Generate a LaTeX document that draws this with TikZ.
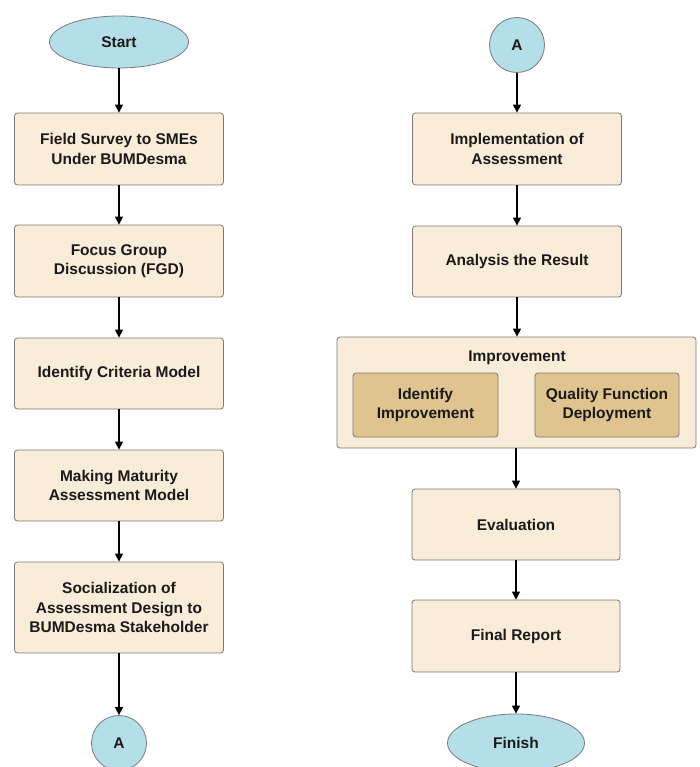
\documentclass[tikz,border=0pt]{standalone}
\usepackage{fontspec}
\setmainfont{Liberation Sans}
\usetikzlibrary{arrows.meta,shapes.geometric}
\definecolor{boxfill}{HTML}{F9ECD8}
\definecolor{innerfill}{HTML}{DFC48F}
\definecolor{termfill}{HTML}{B5DFE8}
\definecolor{edgegray}{HTML}{7A7A7A}
\definecolor{txt}{HTML}{1A1A1A}
\tikzset{
  lbl/.style={font=\fontsize{15.5}{19.5}\selectfont\bfseries, text=txt},
  stepbox/.style={lbl, draw=edgegray, line width=0.8pt, fill=boxfill, rounded corners=3pt,
    minimum width=209pt, minimum height=72pt, align=center, inner sep=0pt},
  innerbox/.style={stepbox, fill=innerfill, minimum width=145pt, minimum height=64pt},
  termell/.style={lbl, draw=edgegray, line width=0.8pt, fill=termfill, ellipse,
    minimum width=139pt, minimum height=52pt, inner sep=0pt},
  connect/.style={lbl, draw=edgegray, line width=0.8pt, fill=termfill, circle,
    minimum size=55pt, inner sep=0pt},
  flow/.style={line width=1.4pt, -{Triangle[length=8pt,width=8pt]}, black}
}
\begin{document}
\begin{tikzpicture}[x=1pt,y=-1pt]
\clip (0,0) rectangle (700,767);
\fill[white] (0,0) rectangle (700,767);
% left column
\node[termell] (start) at (119,42) {Start};
\node[stepbox] (b1) at (119,149) {Field Survey to SMEs\\Under BUMDesma};
\node[stepbox] (b2) at (119,261) {Focus Group\\Discussion (FGD)};
\node[stepbox, minimum height=71pt] (b3) at (119,373.5) {Identify Criteria Model};
\node[stepbox, minimum height=71pt] (b4) at (119,485.5) {Making Maturity\\Assessment Model};
\node[stepbox, minimum height=91pt] (b5) at (119,607.5) {Socialization of\\Assessment Design to\\BUMDesma Stakeholder};
\node[connect] (aL) at (119,743) {A};
\draw[flow] (start) -- (b1);
\draw[flow] (b1) -- (b2);
\draw[flow] (b2) -- (b3);
\draw[flow] (b3) -- (b4);
\draw[flow] (b4) -- (b5);
\draw[flow] (b5) -- (aL);
% right column
\node[connect] (aR) at (517,45) {A};
\node[stepbox] (r1) at (517,149) {Implementation of\\Assessment};
\node[stepbox, minimum height=71pt] (r2) at (517,261.5) {Analysis the Result};
\node[stepbox, minimum width=359pt, minimum height=111pt] (imp) at (516.5,392.5) {};
\node[lbl] (implabel) at (517,358) {Improvement};
\node[innerbox] (i1) at (425.5,405) {Identify\\Improvement};
\node[innerbox, minimum width=144pt] (i2) at (607,405) {Quality Function\\Deployment};
\node[stepbox, minimum width=208pt, minimum height=71pt] (r3) at (516,524.5) {Evaluation};
\node[stepbox, minimum width=208pt] (r4) at (516,636) {Final Report};
\node[termell, minimum width=137pt, minimum height=58pt] (finish) at (516,743) {Finish};
\draw[flow] (aR) -- (r1);
\draw[flow] (r1) -- (r2);
\draw[flow] (r2) -- (imp.north -| r2);
\draw[flow] (imp.south -| r3) -- (r3);
\draw[flow] (r3) -- (r4);
\draw[flow] (r4) -- (finish);
\end{tikzpicture}
\end{document}
